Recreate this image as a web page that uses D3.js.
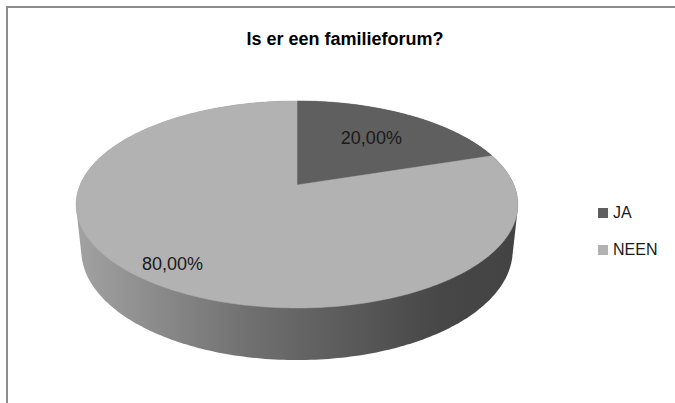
<!DOCTYPE html>
<html>
<head>
<meta charset="utf-8">
<script src="https://cdn.jsdelivr.net/npm/d3@7"></script>
<style>
  html, body { margin: 0; padding: 0; background: #fff; }
  svg { display: block; font-family: "Liberation Sans", Arial, sans-serif; }
</style>
</head>
<body>
<div id="chart"></div>
<script>
// chart data
const title = 'Is er een familieforum?';
const categories = ['JA', 'NEEN'];
const values = [20, 80];
const labels = ['20,00%', '80,00%'];

// layout / styling
const width = 675, height = 403;
const colors = ['#5f5f5f', '#b2b2b2'];
const labelRadius = [0.64, 0.85];

// perspective camera for the 3d pie (pie radius = 1)
const cam = {
  cx: 297, cy: 185,
  dist: 4.724,
  tilt: 27.4 * Math.PI / 180,
  focal: 1025,
  thick: 0.241
};

// angle a: 0 at the far side, clockwise; r: radius; y: height (0 = top face)
function project(a, r, y) {
  const x = r * Math.sin(a);
  const d = r * Math.cos(a);
  const s = Math.sin(cam.tilt), c = Math.cos(cam.tilt);
  const depth = -y * s + d * c + cam.dist;
  return [
    cam.cx + cam.focal * x / depth,
    cam.cy - cam.focal * (y * c + d * s) / depth
  ];
}

const svg = d3.select('#chart')
  .append('svg')
  .attr('width', width)
  .attr('height', height);

// chart frame
svg.append('rect')
  .attr('x', 7)
  .attr('y', 7)
  .attr('width', 720)
  .attr('height', 440)
  .attr('fill', 'none')
  .attr('stroke', '#8c8c8c')
  .attr('stroke-width', 2);

svg.append('text')
  .attr('x', 345)
  .attr('y', 45)
  .attr('text-anchor', 'middle')
  .attr('font-size', 18)
  .attr('font-weight', 'bold')
  .attr('fill', '#000')
  .text(title);

const pie = d3.pie().sort(null).value(d => d);
const arcs = pie(values);

const steps = d3.range(0, 361).map(i => i * Math.PI / 180);

// side of the cylinder: hull of top and bottom rims
const rim = steps.map(a => project(a, 1, 0))
  .concat(steps.map(a => project(a, 1, -cam.thick)));
const hull = d3.polygonHull(rim);
const xExt = d3.extent(rim, p => p[0]);

const grad = svg.append('defs')
  .append('linearGradient')
  .attr('id', 'side')
  .attr('gradientUnits', 'userSpaceOnUse')
  .attr('x1', xExt[0]).attr('x2', xExt[1])
  .attr('y1', 0).attr('y2', 0);
grad.selectAll('stop')
  .data([[0, '#a2a2a2'], [0.4, '#6f6f6f'], [0.82, '#474747'], [1, '#434343']])
  .enter()
  .append('stop')
  .attr('offset', d => d[0])
  .attr('stop-color', d => d[1]);

const line = d3.line();

svg.append('path')
  .attr('d', line(hull) + 'Z')
  .attr('fill', 'url(#side)');

// top faces
svg.selectAll('path.slice')
  .data(arcs)
  .enter()
  .append('path')
  .attr('class', 'slice')
  .attr('d', d => {
    const n = Math.max(2, Math.ceil((d.endAngle - d.startAngle) * 90));
    const pts = [project(0, 0, 0)];
    for (let i = 0; i <= n; i++) {
      const a = d.startAngle + (d.endAngle - d.startAngle) * i / n;
      pts.push(project(a, 1, 0));
    }
    return line(pts) + 'Z';
  })
  .attr('fill', (d, i) => colors[i])
  .attr('stroke', (d, i) => colors[i])
  .attr('stroke-width', 0.5);

// data labels
svg.selectAll('text.label')
  .data(arcs)
  .enter()
  .append('text')
  .attr('class', 'label')
  .attr('x', (d, i) => project((d.startAngle + d.endAngle) / 2, labelRadius[i], 0)[0])
  .attr('y', (d, i) => project((d.startAngle + d.endAngle) / 2, labelRadius[i], 0)[1])
  .attr('dy', '0.35em')
  .attr('text-anchor', 'middle')
  .attr('font-size', 18)
  .attr('fill', '#1a1a1a')
  .text((d, i) => labels[i]);

// legend
const legend = svg.selectAll('g.legend')
  .data(categories)
  .enter()
  .append('g')
  .attr('class', 'legend')
  .attr('transform', (d, i) => `translate(598,${208 + i * 37})`);

legend.append('rect')
  .attr('width', 10)
  .attr('height', 10)
  .attr('fill', (d, i) => colors[i]);

legend.append('text')
  .attr('x', 15)
  .attr('y', 10)
  .attr('font-size', 16)
  .attr('fill', '#1a1a1a')
  .text(d => d);
</script>
</body>
</html>
